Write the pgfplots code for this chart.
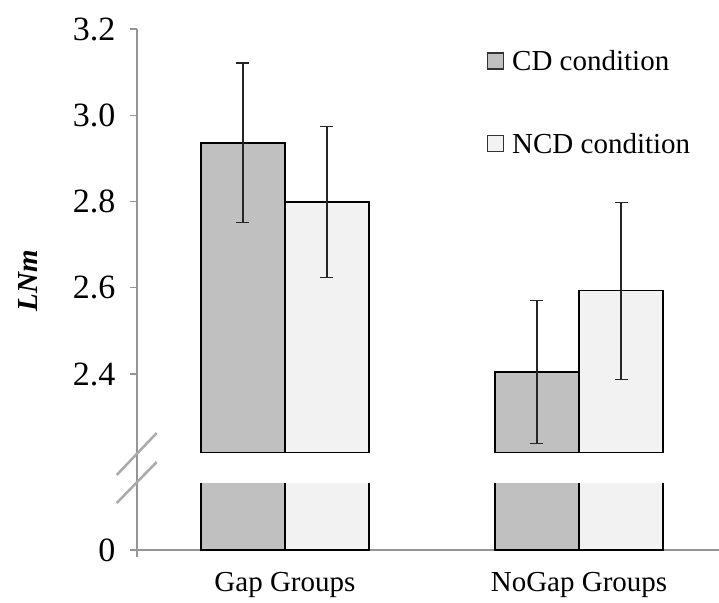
\documentclass[border=0pt]{standalone}
\usepackage{pgfplots}
\pgfplotsset{compat=1.18}
\usepackage{pgfplotstable}
\usepackage{fontspec}
\setmainfont{Liberation Serif}
\definecolor{cdgray}{RGB}{192,192,192}
\definecolor{ncdgray}{RGB}{242,242,242}
\definecolor{axgray}{RGB}{150,150,150}
\definecolor{brkgray}{RGB}{170,170,170}

\pgfplotstableread{
x y e
0 2.936 0.185
1 2.405 0.166
}\cdtab
\pgfplotstableread{
x y e
0 2.799 0.175
1 2.593 0.205
}\ncdtab

\begin{document}
\begin{tikzpicture}
\useasboundingbox (0,0) rectangle (719pt,602pt);
\pgfplotsset{
  common/.style={
    scale only axis, width=582pt, xmin=-0.503, xmax=1.476,
    axis line style={-, draw=axgray, line width=1.3pt},
    tick style={draw=axgray, line width=1.3pt},
    tick align=outside, major tick length=7pt,
    /pgf/number format/assume math mode=true,
    yticklabel style={font=\fontsize{34}{40}\selectfont, xshift=-11pt},
    bar width=0.2857,
  },
  cdbar/.style={ybar, bar shift=-0.1429, fill=cdgray, draw=black, line width=1.3pt},
  ncdbar/.style={ybar, bar shift=0.1429, fill=ncdgray, draw=black, line width=1.3pt},
  errs/.style={draw=none, mark=none, forget plot,
    /pgfplots/error bars/y dir=both, /pgfplots/error bars/y explicit,
    /pgfplots/error bars/error bar style={line width=1.3pt, draw=black!85},
    /pgfplots/error bars/error mark options={rotate=90, mark size=6.5pt, line width=1.3pt, draw=black!85}},
}
% upper part
\begin{axis}[common, at={(137pt,149pt)}, anchor=south west, height=424pt,
  ymin=2.217, ymax=3.2, ytick={2.4,2.6,2.8,3.0,3.2},
  yticklabel style={/pgf/number format/fixed, /pgf/number format/fixed zerofill, /pgf/number format/precision=1},
  axis y line*=left, axis x line=none,
  legend style={draw=none, fill=none, font=\fontsize{29}{34}\selectfont,
    at={(0.601,0.955)}, anchor=north west, inner sep=0pt, row sep=57pt,
    nodes={inner sep=2pt}, /tikz/every odd column/.append style={column sep=6pt}},
  legend cell align=left,
]
\addplot[cdbar, legend image code/.code={\draw[fill=cdgray, draw=black!80, line width=1.2pt] (0pt,-8pt) rectangle (16pt,8pt);}]
  table[x=x, y=y]{\cdtab};
\addlegendentry{CD condition}
\addplot[ncdbar, legend image code/.code={\draw[fill=ncdgray, draw=black!80, line width=1.2pt] (0pt,-8pt) rectangle (16pt,8pt);}]
  table[x=x, y=y]{\ncdtab};
\addlegendentry{NCD condition}
\addplot[errs] table[x expr=\thisrow{x}-0.1429, y=y, y error=e]{\cdtab};
\addplot[errs] table[x expr=\thisrow{x}+0.1429, y=y, y error=e]{\ncdtab};
\end{axis}
% lower part
\begin{axis}[common, at={(137pt,52pt)}, anchor=south west, height=67pt,
  ymin=0, ymax=1, ytick={0},
  axis y line*=left, axis x line*=bottom,
  xtick={0,1}, xticklabels={Gap Groups, NoGap Groups},
  xtick style={draw=none},
  xticklabel style={font=\fontsize{29}{34}\selectfont, yshift=-12pt},
]
\addplot[cdbar] table[x=x, y=y]{\cdtab};
\addplot[ncdbar] table[x=x, y=y]{\ncdtab};
\end{axis}
\draw[axgray, line width=1.3pt] (137pt,118pt) -- (137pt,150pt);
\draw[axgray, line width=1.3pt] (137pt,53pt) -- (137pt,45pt);
\draw[brkgray, line width=2.5pt] (116.7pt,127pt) -- (156.7pt,169pt);
\draw[brkgray, line width=2.5pt] (116.7pt,99pt) -- (156.7pt,140pt);
\node[rotate=90, font=\fontsize{29}{34}\selectfont\bfseries\itshape] at (28pt,321pt) {LNm};
\end{tikzpicture}
\end{document}
